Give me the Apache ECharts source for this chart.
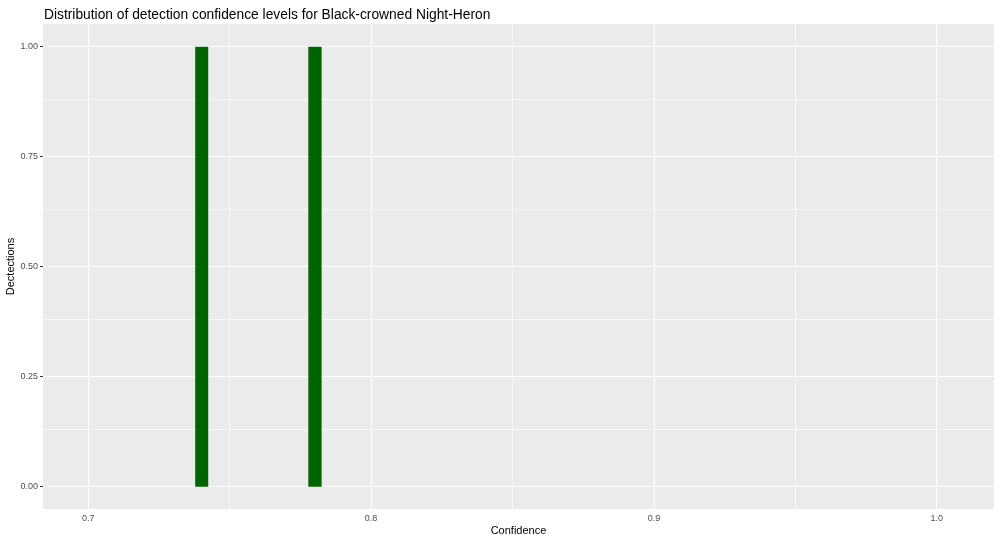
<!DOCTYPE html>
<html>
<head>
<meta charset="utf-8">
<script src="https://cdn.jsdelivr.net/npm/echarts@6/dist/echarts.min.js"></script>
<style>html,body{margin:0;padding:0;background:#fff}#c{width:1000px;height:543px}</style>
</head>
<body>
<div id="c"></div>
<script>
// Histogram bins: [start, end] and counts
const binStarts = [0.7378, 0.7778];
const binEnds = [0.7424, 0.7825];
const counts = [1, 1];
const xTicks = [0.7, 0.8, 0.9, 1.0];
const xMinor = [0.75, 0.85, 0.95];
const yTicks = [0, 0.25, 0.5, 0.75, 1.0];
const yMinor = [0.125, 0.375, 0.625, 0.875];

const chart = echarts.init(document.getElementById('c'), null, {renderer: 'canvas'});
const font = 'Liberation Sans, Arial, sans-serif';
const bars = binStarts.map((s, i) => [s, binEnds[i], counts[i]]);

const gridLines = [];
xTicks.forEach(v => gridLines.push({xAxis: v, lineStyle: {color: '#ffffff', width: 1.1, type: 'solid'}}));
xMinor.forEach(v => gridLines.push({xAxis: v, lineStyle: {color: '#ffffff', width: 0.55, type: 'solid'}}));
yTicks.forEach(v => gridLines.push({yAxis: v, lineStyle: {color: '#ffffff', width: 1.1, type: 'solid'}}));
yMinor.forEach(v => gridLines.push({yAxis: v, lineStyle: {color: '#ffffff', width: 0.55, type: 'solid'}}));

chart.setOption({
  animation: false,
  title: {
    text: 'Distribution of detection confidence levels for Black-crowned Night-Heron',
    left: 39, top: 3,
    textStyle: {fontFamily: font, fontSize: 13.8, fontWeight: 'normal', color: '#000'}
  },
  grid: {left: 43, right: 6, top: 24, bottom: 34, show: true, backgroundColor: '#EBEBEB', borderWidth: 0,
    containLabel: false, outerBoundsMode: 'none'},
  xAxis: {
    type: 'value', min: 0.68398, max: 1.02026,
    name: 'Confidence', nameLocation: 'middle', nameGap: 16, nameMoveOverlap: false,
    nameTextStyle: {fontFamily: font, fontSize: 11, color: '#000'},
    axisLine: {show: false},
    axisTick: {show: true, length: 3, customValues: xTicks, lineStyle: {color: '#333', width: 1}},
    axisLabel: {customValues: xTicks, fontFamily: font, fontSize: 9, color: '#4D4D4D', margin: 5,
      formatter: v => v.toFixed(1)},
    splitLine: {show: false}
  },
  yAxis: {
    type: 'value', min: -0.0507, max: 1.0516,
    name: 'Dectections', nameLocation: 'middle', nameGap: 27, nameMoveOverlap: false,
    nameTextStyle: {fontFamily: font, fontSize: 11, color: '#000'},
    axisLine: {show: false},
    axisTick: {show: true, length: 3, customValues: yTicks, lineStyle: {color: '#333', width: 1}},
    axisLabel: {customValues: yTicks, fontFamily: font, fontSize: 9, color: '#4D4D4D', margin: 5,
      formatter: v => v.toFixed(2)},
    splitLine: {show: false}
  },
  series: [
    {
      type: 'line', data: [], silent: true, z: 1,
      markLine: {silent: true, symbol: ['none', 'none'], label: {show: false}, animation: false, data: gridLines}
    },
    {
      type: 'custom', z: 5, data: bars,
      encode: {x: [0, 1], y: 2},
      renderItem: function (params, api) {
        const p0 = api.coord([api.value(0), api.value(2)]);
        const p1 = api.coord([api.value(1), 0]);
        return {type: 'rect', shape: {x: p0[0], y: p0[1], width: p1[0] - p0[0], height: p1[1] - p0[1]},
          style: {fill: '#006400'}};
      }
    }
  ]
});
</script>
</body>
</html>
